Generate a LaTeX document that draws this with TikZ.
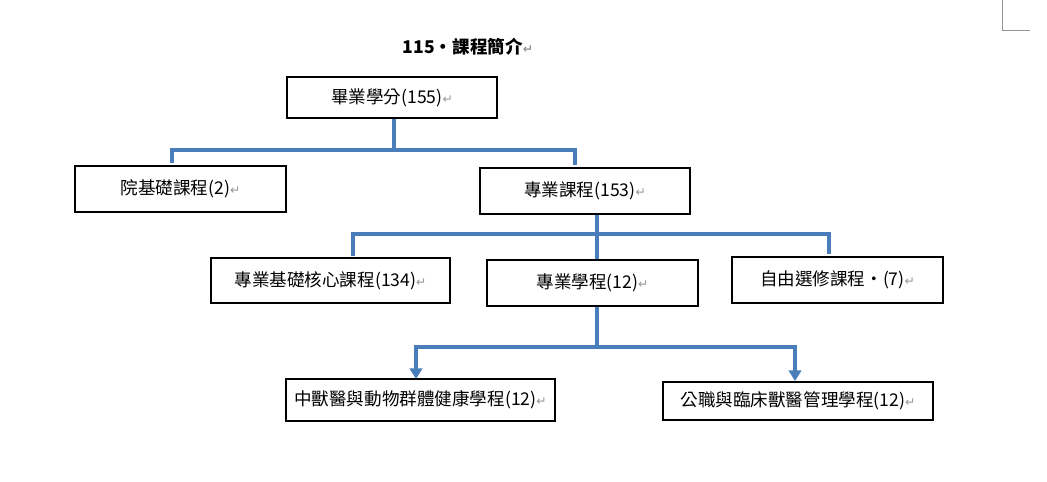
\documentclass[tikz,border=0pt]{standalone}
\usepackage{fontspec}
\setmainfont{Noto Sans CJK TC}
\newfontfamily\markfont{DejaVu Sans}
\usetikzlibrary{arrows.meta}
\definecolor{linkblue}{RGB}{74,126,187}
\definecolor{markgray}{RGB}{150,150,150}
\newcommand{\pmark}{{\markfont\color{markgray}\scriptsize ↵}}
\tikzset{
  unit/.style={draw=black, line width=0.7pt, inner sep=0pt, font=\fontsize{10}{12}\selectfont},
  link/.style={draw=linkblue, line width=1.8pt},
  linkarrow/.style={link, -{Triangle[length=6pt,width=7pt]}}
}
\begin{document}
\begin{tikzpicture}[x=0.02cm, y=-0.02cm]
  \useasboundingbox (0,0) rectangle (1047,481);
  % page corner mark
  \draw[markgray, line width=0.5pt] (1002,0) -- (1002,30) -- (1030,30);

  \node[font=\bfseries\fontsize{10}{12}\selectfont] (title) at (468,47) {115·課程簡介\pmark};

  \node[unit, minimum width=210*0.02cm, minimum height=41*0.02cm] (grad) at (392,97.5) {畢業學分(155)\pmark};
  \node[unit, minimum width=211*0.02cm, minimum height=46*0.02cm] (college) at (180.5,189) {院基礎課程(2)\pmark};
  \node[unit, minimum width=210*0.02cm, minimum height=46*0.02cm] (major) at (585,191) {專業課程(153)\pmark};
  \node[unit, minimum width=239*0.02cm, minimum height=45*0.02cm] (core) at (330.5,280.5) {專業基礎核心課程(134)\pmark};
  \node[unit, minimum width=211*0.02cm, minimum height=46*0.02cm] (program) at (592.5,283) {專業學程(12)\pmark};
  \node[unit, minimum width=211*0.02cm, minimum height=46*0.02cm] (elective) at (837.5,280) {自由選修課程·(7)\pmark};
  \node[unit, minimum width=269*0.02cm, minimum height=42*0.02cm] (tcvm) at (420.5,400) {中獸醫與動物群體健康學程(12)\pmark};
  \node[unit, minimum width=270*0.02cm, minimum height=38*0.02cm] (public) at (798,401) {公職與臨床獸醫管理學程(12)\pmark};

  \coordinate (gradsplit) at (394,150);
  \coordinate (majorsplit) at (597,234);
  \coordinate (progsplit) at (597,347);

  \draw[link] (grad.south -| gradsplit) -- (gradsplit);
  \draw[link] (172,163) -- (172,150) -- (575,150) -- (575,165);
  \draw[link] (major.south -| majorsplit) -- (majorsplit);
  \draw[link] (353,256) -- (353,234) -- (829,234) -- (829,254);
  \draw[link] (majorsplit) -- (program.north -| majorsplit);
  \draw[link] (program.south -| progsplit) -- (progsplit);
  \draw[linkarrow] (progsplit) -- (416,347) -- (416,379);
  \draw[linkarrow] (progsplit) -- (795,347) -- (795,381);
\end{tikzpicture}
\end{document}
